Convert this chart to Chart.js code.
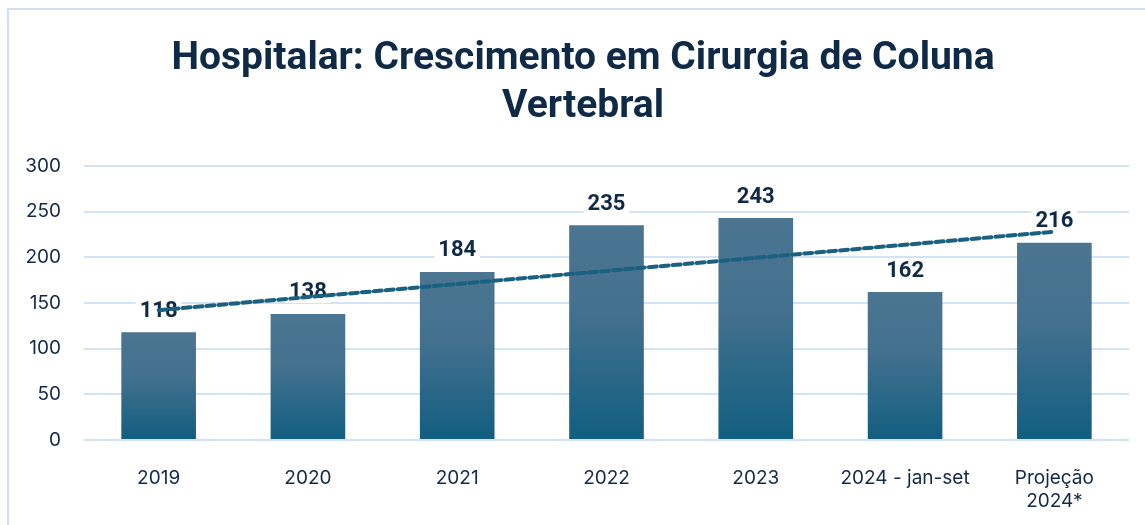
<!DOCTYPE html>
<html>
<head>
<meta charset="utf-8">
<script src="https://cdn.jsdelivr.net/npm/chart.js@4.4.1/dist/chart.umd.min.js"></script>
<style>
  html, body { margin: 0; padding: 0; background: #fff; }
  #frame { position: absolute; left: 7px; top: 8px; width: 1200px; height: 600px; border: 2px solid #cfe0f3; box-sizing: border-box; }
  #wrap { position: absolute; left: 0; top: 0; width: 1145px; height: 525px; }
</style>
</head>
<body>
<div id="frame"></div>
<div id="wrap"><canvas id="chart" width="1145" height="525"></canvas></div>
<script>
// Cirurgias de coluna vertebral por ano
const categorias = ["2019", "2020", "2021", "2022", "2023", "2024 - jan-set", ["Projeção", "2024*"]];
const cirurgias = [118, 138, 184, 235, 243, 162, 216];
const yTicks = [0, 50, 100, 150, 200, 250, 300];
const titulo = ["Hospitalar: Crescimento em Cirurgia de Coluna", "Vertebral"];

const corTexto = "#14284a";
const corTitulo = "#0f2a47";
const corGrade = "#d3e3f4";

// linha de tendência linear (mínimos quadrados), como a do Excel
function tendencia(vals) {
  const n = vals.length;
  const mx = (n - 1) / 2;
  const my = vals.reduce((a, b) => a + b, 0) / n;
  let num = 0, den = 0;
  vals.forEach((v, i) => { num += (i - mx) * (v - my); den += (i - mx) * (i - mx); });
  const b = num / den;
  return vals.map((_, i) => my + b * (i - mx));
}

// degradê de cada barra: cinza-azulado em cima, azul petróleo embaixo
function corBarra(context) {
  const chart = context.chart;
  const y = chart.scales.y;
  if (!chart.chartArea || !y || context.raw === undefined) return "#3f6d8a";
  const topo = y.getPixelForValue(context.raw);
  const base = y.getPixelForValue(0);
  if (!isFinite(topo) || !isFinite(base)) return "#3f6d8a";
  const g = chart.ctx.createLinearGradient(0, topo, 0, base);
  g.addColorStop(0, "#4b7591");
  g.addColorStop(0.4, "#44718e");
  g.addColorStop(1, "#115e80");
  return g;
}

const tituloPlugin = {
  id: "tituloCentral",
  afterDraw(chart) {
    const ctx = chart.ctx;
    ctx.save();
    ctx.font = "bold 39px Roboto";
    ctx.fillStyle = corTitulo;
    ctx.textAlign = "center";
    ctx.textBaseline = "alphabetic";
    ctx.fillText(titulo[0], 583, 69);
    ctx.fillText(titulo[1], 583, 117);
    ctx.restore();
  }
};

// rótulos de valor acima das barras (fundo branco, antes da linha de tendência)
const rotulosPlugin = {
  id: "rotulos",
  afterDatasetDraw(chart, args) {
    if (args.index !== 0) return;
    const ctx = chart.ctx;
    ctx.save();
    ctx.font = "bold 22px Roboto";
    ctx.textAlign = "center";
    ctx.textBaseline = "middle";
    args.meta.data.forEach((bar, i) => {
      const txt = String(cirurgias[i]);
      const w = ctx.measureText(txt).width;
      const cy = bar.y - 22;
      ctx.fillStyle = "#ffffff";
      ctx.fillRect(bar.x - w / 2 - 4, cy - 11, w + 8, 22);
      ctx.fillStyle = corTitulo;
      ctx.fillText(txt, bar.x, cy + 1);
    });
    ctx.restore();
  }
};

const grafico = new Chart(document.getElementById("chart"), {
  data: {
    labels: categorias,
    datasets: [
      {
        type: "bar",
        label: "Cirurgias",
        data: cirurgias,
        backgroundColor: corBarra,
        categoryPercentage: 0.5,
        barPercentage: 1,
        order: 2
      },
      {
        type: "line",
        label: "Tendência",
        data: tendencia(cirurgias),
        borderColor: "#1a6080",
        borderWidth: 4,
        borderDash: [8, 4],
        borderCapStyle: "round",
        pointRadius: 0,
        tension: 0,
        fill: false,
        order: 1
      }
    ]
  },
  options: {
    responsive: false,
    animation: false,
    layout: { padding: { top: 166, right: 16, bottom: 0, left: 0 } },
    plugins: {
      legend: { display: false },
      tooltip: { enabled: false },
      title: { display: false }
    },
    scales: {
      x: {
        grid: { display: false },
        border: { display: false },
        ticks: {
          color: corTexto,
          font: { family: "Inter", size: 19, lineHeight: 1.25 },
          padding: 18,
          maxRotation: 0,
          autoSkip: false
        },
        afterFit(scale) { scale.height = 85; }
      },
      y: {
        min: yTicks[0],
        max: yTicks[yTicks.length - 1],
        grid: { color: corGrade, lineWidth: 2, drawTicks: false },
        border: { display: false },
        ticks: {
          stepSize: yTicks[1] - yTicks[0],
          color: corTexto,
          font: { family: "Inter", size: 19 },
          padding: 23
        },
        afterFit(scale) { scale.width = 84; }
      }
    }
  },
  plugins: [tituloPlugin, rotulosPlugin]
});
// segunda passagem para o degradê usar as escalas já posicionadas
grafico.update();
</script>
</body>
</html>
